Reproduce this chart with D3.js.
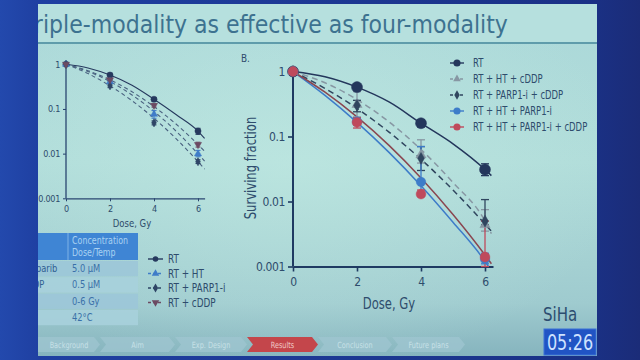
<!DOCTYPE html>
<html><head><meta charset="utf-8">
<script src="https://cdn.jsdelivr.net/npm/d3@7"></script>
<style>
html,body{margin:0;padding:0;background:#1a3590;}
svg{display:block;}
</style></head>
<body>
<script>
// ---------------- DATA ----------------
const titleText = "Triple-modality as effective as four-modality";
const doses = [0, 2, 4, 6];
const xTicks = [0, 2, 4, 6];
const yTicks = [1, 0.1, 0.01, 0.001];
const yTickLabels = ["1", "0.1", "0.01", "0.001"];

// Panel B (SiHa) series
const mainNames = ["RT", "RT + HT + cDDP", "RT + PARP1-i + cDDP", "RT + HT + PARP1-i", "RT + HT + PARP1-i + cDDP"];
const mainRT        = [1, 0.575, 0.16, 0.031];
const mainHTcDDP    = [1, 0.31, 0.052, 0.0044];
const mainPARPcDDP  = [1, 0.30, 0.046, 0.005];
const mainHTPARP    = [1, 0.17, 0.02, 0.0013];
const mainAll       = [1, 0.165, 0.013, 0.0014];
const mainRTerr       = [[1,1],[0.53,0.62],[0.14,0.18],[0.025,0.038]];
const mainHTcDDPerr   = [[1,1],[0.20,0.49],[0.039,0.089],[0.0035,0.0075]];
const mainPARPcDDPerr = [[1,1],[0.24,0.36],[0.03,0.07],[0.0044,0.0107]];
const mainHTPARPerr   = [[1,1],[0.15,0.19],[0.013,0.07],[0.0011,0.0016]];
const mainAllerr      = [[1,1],[0.135,0.195],[0.012,0.015],[0.001,0.005]];
// fitted curves
const mainCurveDose    = [0, 1, 2, 3, 4, 5, 6, 6.2];
const mainRTcurve       = [1, 0.83, 0.575, 0.34, 0.16, 0.077, 0.031, 0.025];
const mainHTcDDPcurve   = [1, 0.67, 0.37, 0.168, 0.063, 0.0196, 0.005, 0.0032];
const mainPARPcDDPcurve = [1, 0.55, 0.27, 0.117, 0.0446, 0.015, 0.0045, 0.0035];
const mainHTPARPcurve   = [1, 0.43, 0.165, 0.057, 0.0175, 0.0048, 0.0012, 0.00085];
const mainAllcurve      = [1, 0.48, 0.20, 0.073, 0.023, 0.0063, 0.0015, 0.0011];

// Left panel series
const leftNames = ["RT", "RT + HT", "RT + PARP1-i", "RT + cDDP"];
const leftRT   = [1, 0.575, 0.165, 0.032];
const leftHT   = [1, 0.41, 0.076, 0.0099];
const leftPARP = [1, 0.33, 0.049, 0.0066];
const leftcDDP = [1, 0.45, 0.12, 0.016];
const leftRTerr   = [[1,1],[0.52,0.63],[0.15,0.18],[0.027,0.037]];
const leftHTerr   = [[1,1],[0.37,0.45],[0.062,0.092],[0.0085,0.0118]];
const leftPARPerr = [[1,1],[0.30,0.36],[0.044,0.054],[0.006,0.0073]];
const leftcDDPerr = [[1,1],[0.42,0.48],[0.11,0.13],[0.014,0.018]];
const leftCurveDose = [0, 1, 2, 3, 4, 5, 6, 6.3];
const leftRTcurve   = [1, 0.83, 0.575, 0.34, 0.165, 0.075, 0.032, 0.022];
const leftcDDPcurve = [1, 0.72, 0.45, 0.243, 0.113, 0.046, 0.016, 0.0113];
const leftHTcurve   = [1, 0.69, 0.41, 0.206, 0.088, 0.032, 0.0099, 0.0068];
const leftPARPcurve = [1, 0.62, 0.33, 0.153, 0.062, 0.0217, 0.0066, 0.0045];

// Table
const tableHeader = ["Concentration", "Dose/Temp"];
const tableAgents = ["Olaparib", "cDDP", "RT", "HT"];
const tableValues = ["5.0 µM", "0.5 µM", "0-6 Gy", "42°C"];

// Navigation
const navItems = ["Background", "Aim", "Exp. Design", "Results", "Conclusion", "Future plans"];
const navActive = "Results";
const timerText = "05:26";
const cellLine = "SiHa";

// ---------------- DRAW ----------------
const W = 640, H = 360;
const FONT = "'DejaVu Sans Condensed','Liberation Sans',sans-serif";
const TXT = "#2e4c6c";
const svg = d3.select("body").append("svg").attr("width", W).attr("height", H);
const defs = svg.append("defs");

// condensed text helper
function txt(g, x, y, s, o) {
  o = o || {};
  return g.append("text")
    .attr("transform", `translate(${x},${y})` + (o.rot ? ` rotate(${o.rot})` : "") + ` scale(${o.sx || 0.84},1)`)
    .attr("text-anchor", o.anchor || "start")
    .attr("font-family", o.font || FONT).attr("font-size", o.fs || 11)
    .attr("fill", o.fill || TXT).text(s);
}

// backgrounds
const gBg = defs.append("linearGradient").attr("id","bgside").attr("x1",0).attr("x2",1).attr("y1",0).attr("y2",0);
gBg.append("stop").attr("offset",0).attr("stop-color","#2349ad");
gBg.append("stop").attr("offset",0.06).attr("stop-color","#1f40a2");
gBg.append("stop").attr("offset",0.92).attr("stop-color","#1a3186");
gBg.append("stop").attr("offset",1).attr("stop-color","#1b2c78");
svg.append("rect").attr("width",W).attr("height",H).attr("fill","url(#bgside)");

const gSl = defs.append("linearGradient").attr("id","slide").attr("x1",0).attr("x2",0).attr("y1",0).attr("y2",1);
gSl.append("stop").attr("offset",0).attr("stop-color","#abd8d9");
gSl.append("stop").attr("offset",0.45).attr("stop-color","#b1ddda");
gSl.append("stop").attr("offset",0.85).attr("stop-color","#9fcbcf");
gSl.append("stop").attr("offset",1).attr("stop-color","#86b4be");
svg.append("rect").attr("x",38).attr("y",4).attr("width",559).attr("height",352).attr("fill","url(#slide)");
const gRad = defs.append("radialGradient").attr("id","glow").attr("cx",0.45).attr("cy",0.45).attr("r",0.6);
gRad.append("stop").attr("offset",0).attr("stop-color","#c4ece4").attr("stop-opacity",0.5);
gRad.append("stop").attr("offset",1).attr("stop-color","#c4ece4").attr("stop-opacity",0);
svg.append("rect").attr("x",38).attr("y",4).attr("width",559).attr("height",352).attr("fill","url(#glow)");

// title band
svg.append("rect").attr("x",38).attr("y",4).attr("width",559).attr("height",38).attr("fill","#b6e0de");
svg.append("line").attr("x1",38).attr("x2",597).attr("y1",43).attr("y2",43).attr("stroke","#5f9cab").attr("stroke-width",2);
defs.append("clipPath").attr("id","slideclip").append("rect").attr("x",38).attr("y",0).attr("width",559).attr("height",360);
svg.append("text").attr("clip-path","url(#slideclip)")
  .attr("x",24).attr("y",33).attr("font-family","'DejaVu Sans Condensed','Open Sans',sans-serif")
  .attr("font-size",24.5).attr("fill","#3d7290").text(titleText);

// helpers
function markerPath(type, size) {
  const sym = {circle: d3.symbolCircle, triangle: d3.symbolTriangle, diamond: d3.symbolDiamond, down: d3.symbolTriangle}[type];
  return d3.symbol().type(sym).size(size)();
}

function drawPanel(cfg) {
  const x = d3.scaleLinear().domain([0, cfg.xmax]).range([cfg.x0, cfg.x1]);
  const y = d3.scaleLog().domain([0.001, 1]).range([cfg.y0, cfg.y1]);
  const g = svg.append("g");
  const cid = cfg.id + "clip";
  defs.append("clipPath").attr("id", cid).append("rect")
    .attr("x", cfg.x0).attr("y", cfg.y1 - 12).attr("width", cfg.x1 - cfg.x0 + 6).attr("height", cfg.y0 - cfg.y1 + 12);
  // curves
  const line = d3.line().x(d => x(d[0])).y(d => y(d[1])).curve(d3.curveMonotoneX);
  cfg.series.forEach(s => {
    g.append("path").attr("clip-path", `url(#${cid})`)
      .attr("d", line(cfg.curveDose.map((d, i) => [d, s.curve[i]])))
      .attr("fill", "none").attr("stroke", s.lineColor || s.color).attr("stroke-width", cfg.lw)
      .attr("stroke-dasharray", s.dash ? cfg.dash : null);
  });
  // axes
  const ax = g.append("g").attr("transform", `translate(0,${cfg.y0})`)
    .call(d3.axisBottom(x).tickValues(xTicks).tickFormat(d3.format("d")).tickSize(cfg.tick).tickSizeOuter(0));
  const ay = g.append("g").attr("transform", `translate(${cfg.x0},0)`)
    .call(d3.axisLeft(y).tickValues(yTicks).tickFormat((d, i) => yTickLabels[i]).tickSize(cfg.tick).tickSizeOuter(0));
  [ax, ay].forEach(a => {
    a.select(".domain").attr("stroke", cfg.axisColor).attr("stroke-width", cfg.axw);
    a.selectAll(".tick line").attr("stroke", cfg.axisColor).attr("stroke-width", cfg.axw * 0.8);
    a.selectAll(".tick text").attr("fill", cfg.textColor).attr("font-family", FONT).attr("font-size", cfg.fs)
      .attr("letter-spacing", cfg.ls);
  });
  ay.select(".domain").attr("d", `M0,${cfg.y0}V${cfg.y1}`);
  ax.selectAll(".tick text").attr("dy", cfg.xdy);
  // error bars
  cfg.series.forEach(s => {
    s.err.forEach((e, i) => {
      if (e[0] === e[1]) return;
      const xx = x(doses[i]);
      const eg = g.append("g").attr("stroke", s.errColor || s.color).attr("stroke-width", cfg.ew);
      eg.append("line").attr("x1", xx).attr("x2", xx).attr("y1", y(e[0])).attr("y2", y(e[1]));
      [e[0], e[1]].forEach(v => eg.append("line").attr("x1", xx - cfg.cap).attr("x2", xx + cfg.cap).attr("y1", y(v)).attr("y2", y(v)));
    });
  });
  // markers
  cfg.series.forEach(s => {
    s.vals.forEach((v, i) => {
      g.append("path").attr("d", markerPath(s.marker, s.msize))
        .attr("transform", `translate(${x(doses[i])},${y(v)})` + (s.marker === "down" ? " rotate(180)" : ""))
        .attr("fill", s.color).attr("stroke", s.color).attr("stroke-width", 0.5);
    });
  });
  return {x, y};
}

// ---- main panel B ----
const mainSeries = [
  {vals: mainRT, err: mainRTerr, curve: mainRTcurve, color: "#24375c", marker: "circle", msize: 95, dash: false},
  {vals: mainHTcDDP, err: mainHTcDDPerr, curve: mainHTcDDPcurve, color: "#8797a3", marker: "triangle", msize: 45, dash: true},
  {vals: mainPARPcDDP, err: mainPARPcDDPerr, curve: mainPARPcDDPcurve, color: "#30465f", marker: "diamond", msize: 40, dash: true},
  {vals: mainHTPARP, err: mainHTPARPerr, curve: mainHTPARPcurve, color: "#3d7cc9", marker: "circle", msize: 70, dash: false},
  {vals: mainAll, err: mainAllerr, curve: mainAllcurve, color: "#bf4a5c", lineColor: "#8a4650", marker: "circle", msize: 75, dash: false}
];
drawPanel({id: "main", xmax: 6.25, x0: 293, x1: 493, y0: 266.5, y1: 71.5, series: mainSeries,
  curveDose: mainCurveDose, lw: 1.5, dash: "6,4", tick: 5, axisColor: "#1f3a62", axw: 2, textColor: TXT,
  fs: 12, ls: -0.4, xdy: "0.95em", ew: 1.3, cap: 4});

txt(svg, 241, 62, "B.", {fs: 11, sx: 0.9});
txt(svg, 256, 168, "Surviving fraction", {rot: -90, anchor: "middle", fs: 15, sx: 0.86});
txt(svg, 389, 309, "Dose, Gy", {anchor: "middle", fs: 15, sx: 0.86});

// main legend
const legM = svg.append("g");
mainSeries.forEach((s, i) => {
  const yy = 63 + i * 16;
  legM.append("line").attr("x1", 450).attr("x2", 464).attr("y1", yy).attr("y2", yy)
    .attr("stroke", s.color).attr("stroke-width", 1.4).attr("stroke-dasharray", s.dash ? "3,2" : null);
  legM.append("path").attr("d", markerPath(s.marker, s.marker === "circle" ? 40 : 25))
    .attr("transform", `translate(457,${yy})`).attr("fill", s.color);
  txt(legM, 473, yy + 4, mainNames[i], {fs: 11.5, sx: 0.82});
});

// ---- left panel ----
const leftSeries = [
  {vals: leftRT, err: leftRTerr, curve: leftRTcurve, color: "#26395e", marker: "circle", msize: 30, dash: false},
  {vals: leftHT, err: leftHTerr, curve: leftHTcurve, color: "#3f7cc8", lineColor: "#4a6280", marker: "triangle", msize: 22, dash: true},
  {vals: leftPARP, err: leftPARPerr, curve: leftPARPcurve, color: "#2e4566", lineColor: "#4a6280", marker: "diamond", msize: 20, dash: true},
  {vals: leftcDDP, err: leftcDDPerr, curve: leftcDDPcurve, color: "#6c4a62", lineColor: "#4a6280", marker: "down", msize: 22, dash: true}
];
drawPanel({id: "left", xmax: 6.3, x0: 66, x1: 204.6, y0: 198.3, y1: 64.3, series: leftSeries,
  curveDose: leftCurveDose, lw: 1.1, dash: "4,3", tick: 3, axisColor: "#2a4670", axw: 1.3, textColor: TXT,
  fs: 9, ls: -0.3, xdy: "0.85em", ew: 1, cap: 2.5});
txt(svg, 132, 227, "Dose, Gy", {anchor: "middle", fs: 11, sx: 0.86});

// left legend
const legL = svg.append("g");
leftSeries.forEach((s, i) => {
  const yy = 259 + i * 14.5;
  legL.append("line").attr("x1", 148).attr("x2", 163).attr("y1", yy).attr("y2", yy)
    .attr("stroke", s.color).attr("stroke-width", 1.4).attr("stroke-dasharray", s.dash ? "3,2" : null);
  legL.append("path").attr("d", markerPath(s.marker, 24))
    .attr("transform", `translate(155.5,${yy})` + (s.marker === "down" ? " rotate(180)" : "")).attr("fill", s.color);
  txt(legL, 168, yy + 4, leftNames[i], {fs: 12, sx: 0.82});
});

// ---- table ----
const tbl = svg.append("g").attr("clip-path", "url(#slideclip)");
tbl.append("rect").attr("x", 20).attr("y", 233).attr("width", 118).attr("height", 27).attr("fill", "#3f85d4");
tbl.append("line").attr("x1", 68).attr("x2", 68).attr("y1", 233).attr("y2", 260).attr("stroke", "#7fb2e6").attr("stroke-width", 1);
tableHeader.forEach((t, i) => txt(tbl, 72, 244 + i * 11.5, t, {fs: 10.5, sx: 0.84, fill: "#a9d2f2"}));
tableValues.forEach((v, i) => {
  const yy = 261 + i * 16.3;
  tbl.append("rect").attr("x", 20).attr("y", yy).attr("width", 118).attr("height", 15.3)
    .attr("fill", i % 2 === 0 ? "#9cc6d8" : "#a7d0dc").attr("opacity", 0.9);
  txt(tbl, 22, yy + 11, tableAgents[i], {fs: 11, sx: 0.84, fill: "#2f5f92"});
  txt(tbl, 72, yy + 11, v, {fs: 11, sx: 0.84, fill: "#3a70a8"});
});

// ---- SiHa label ----
txt(svg, 543, 321, cellLine, {fs: 19, sx: 0.88, fill: "#2c4d70"});

// ---- navigation ----
const navX = [38, 100, 175, 247, 318, 392, 465];
const nav = svg.append("g");
navItems.forEach((t, i) => {
  const a = navX[i], b = navX[i + 1], y0 = 337, y1 = 352, ym = 344.5, d = 6;
  const pts = [[a, y0], [b - d, y0], [b, ym], [b - d, y1], [a, y1], [a + (i ? d : 0), ym]];
  const act = t === navActive;
  nav.append("path").attr("d", d3.line()(pts) + "Z")
    .attr("fill", act ? "#c4464b" : "#9fc6d0").attr("opacity", act ? 1 : 0.75);
  txt(nav, (a + b) / 2, 347.5, t, {anchor: "middle", fs: 8.5, sx: 0.85, fill: act ? "#f0c8c8" : "#c6e0e6"});
});

// ---- timer ----
svg.append("rect").attr("x", 544).attr("y", 329).attr("width", 52).attr("height", 26).attr("fill", "#2154c4")
  .attr("stroke", "#3a70d8").attr("stroke-width", 1);
txt(svg, 570, 349.5, timerText, {anchor: "middle", fs: 21, sx: 0.85, fill: "#cfe2ff"});
</script>
</body></html>
